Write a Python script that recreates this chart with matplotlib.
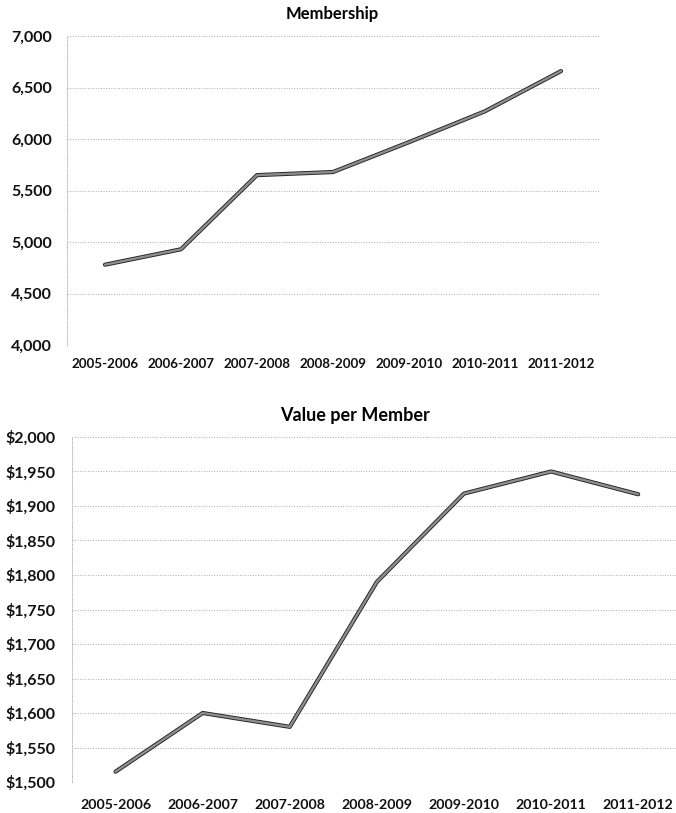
#!/usr/bin/env python3
# membership and value per member, 2005-2012
import matplotlib
matplotlib.use('Agg')
import matplotlib.pyplot as plt
import matplotlib.ticker as mt

### data
years = ['2005-2006', '2006-2007', '2007-2008', '2008-2009',
         '2009-2010', '2010-2011', '2011-2012']
members = [4780, 4930, 5650, 5680, 5970, 6270, 6660]
value_per_member = [1515, 1600, 1580, 1790, 1918, 1950, 1917]

plt.rcParams['font.family'] = ['Lato', 'DejaVu Sans']
plt.rcParams['font.weight'] = 'bold'

fig = plt.figure(figsize=(6.76, 8.13), dpi=100)


def style_axes(ax, ticks, ylim, fmt, xsize, xpad, ysize, ypad):
    x = range(len(years))
    ax.set_xlim(-0.5, len(years) - 0.5)
    ax.set_ylim(*ylim)
    ax.set_yticks(ticks)
    ax.yaxis.set_major_formatter(mt.FuncFormatter(fmt))
    ax.set_xticks(list(x))
    ax.set_xticklabels(years)
    ax.tick_params(axis='x', length=0, pad=xpad, labelsize=xsize)
    ax.tick_params(axis='y', length=0, pad=ypad, labelsize=ysize)
    for lab in ax.get_xticklabels() + ax.get_yticklabels():
        lab.set_fontweight('bold')
        lab.set_color('#111111')
    for s in ['top', 'right', 'bottom']:
        ax.spines[s].set_visible(False)
    ax.spines['left'].set_linestyle(':')
    ax.spines['left'].set_color('#bbbbbb')
    ax.spines['left'].set_linewidth(0.7)
    ax.grid(axis='y', linestyle=':', color='#aaaaaa', linewidth=0.7)
    ax.set_axisbelow(True)


def draw_line(ax, vals):
    x = range(len(vals))
    # dark outline with a grey core, like a thick pencil stroke
    ax.plot(x, vals, color='#222222', linewidth=3.0, solid_capstyle='round',
            solid_joinstyle='round', zorder=3)
    ax.plot(x, vals, color='#8e8e8e', linewidth=1.7, solid_capstyle='round',
            solid_joinstyle='round', zorder=4)


# top: membership
ax1 = fig.add_axes([0.0991, 0.5756, 0.787, 0.380])
style_axes(ax1, range(4000, 7001, 500), (4000, 7000),
           lambda v, p: '{:,.0f}'.format(v), 9.6, 9, 11.5, 11)
draw_line(ax1, members)
fig.text(0.491, 0.983, 'Membership', ha='center', va='center',
         fontsize=12, fontweight='bold')

# bottom: value per member, plot runs a little past the right edge
ax2 = fig.add_axes([0.1065, 0.0381, 0.902, 0.4244])
style_axes(ax2, range(1500, 2001, 50), (1500, 2000),
           lambda v, p: '${:,.0f}'.format(v), 10.2, 12, 11.5, 12)
draw_line(ax2, value_per_member)
fig.text(0.525, 0.4895, 'Value per Member', ha='center', va='center',
         fontsize=13, fontweight='bold')

fig.savefig('out.png', dpi=100)
